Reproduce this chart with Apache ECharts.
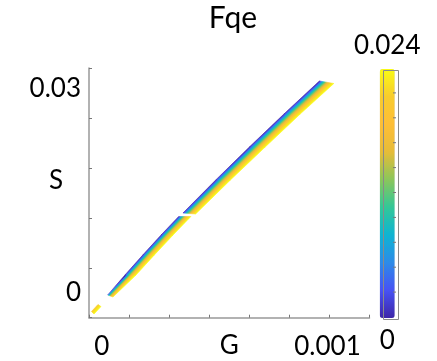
<!DOCTYPE html>
<html>
<head>
<meta charset="utf-8">
<script src="https://cdn.jsdelivr.net/npm/echarts@6/dist/echarts.min.js"></script>
<style>
  html, body { margin: 0; padding: 0; background: #fff; }
  #chart { width: 437px; height: 361px; }
</style>
</head>
<body>
<div id="chart"></div>
<script>
// Fqe over the (G, S) plane. Each piece of the band is given by its low-Fqe edge
// (blue side) and its high-Fqe edge (yellow side), as (G, S) points.
const upperBlueG   = [0.000360, 0.000505, 0.000654, 0.000807, 0.000964];
const upperBlueS   = [0.01176, 0.01662, 0.02147, 0.02632, 0.03118];
const upperYellowG = [0.000416, 0.000570, 0.000724, 0.000879, 0.001028];
const upperYellowS = [0.01162, 0.01662, 0.02147, 0.02632, 0.03081];

const lowerBlueG   = [0.0000266, 0.000103, 0.000182, 0.000263, 0.000341];
const lowerBlueS   = [-0.00029, 0.00265, 0.00559, 0.00853, 0.01125];
const lowerYellowG = [0.0000500, 0.000152, 0.000233, 0.000316, 0.000395];
const lowerYellowS = [-0.00059, 0.00265, 0.00559, 0.00853, 0.01125];

const tailBlueG    = [-0.0000452, -0.0000164];
const tailBlueS    = [-0.00272, -0.00169];
const tailYellowG  = [-0.0000341, -0.0000031];
const tailYellowS  = [-0.00309, -0.00199];

// Fqe across the main band: fraction of the way from blue edge to yellow edge -> Fqe
const bandProfilePos = [0, 0.1, 0.25, 0.5, 0.75, 1];
const bandProfileFqe = [0, 0.0036, 0.0096, 0.0173, 0.0216, 0.024];
// the short detached tail only holds high values
const tailProfilePos = [0, 1];
const tailProfileFqe = [0.021, 0.024];

// Axes and colour scale
const gRange = [-0.0000562, 0.001186];
const sRange = [-0.00363, 0.03309];
const gLabels = [0, 0.001];
const sLabels = [0, 0.03];
const fqeRange = [0, 0.024];
const fqeLabels = ['0.024', '0'];
const chartTitle = 'Fqe';

const parulaColors = ['#3e26a8', '#4852f4', '#2d8be8', '#0fb4d2', '#33c798',
                      '#8bc65b', '#e6bc38', '#febe37', '#f8cc2d', '#f9fb15'];
const parulaPos = [0, 0.127, 0.254, 0.381, 0.508, 0.635, 0.762, 0.825, 0.889, 1];

const FONT = 'Lato, "Open Sans", sans-serif';

function hexToRgb(h) {
  return [parseInt(h.slice(1, 3), 16), parseInt(h.slice(3, 5), 16), parseInt(h.slice(5, 7), 16)];
}
const parulaRgb = parulaColors.map(hexToRgb);

function parulaAt(t) {
  t = Math.max(0, Math.min(1, t));
  let i = 0;
  while (i < parulaPos.length - 2 && t > parulaPos[i + 1]) i++;
  const u = (t - parulaPos[i]) / (parulaPos[i + 1] - parulaPos[i]);
  const a = parulaRgb[i], b = parulaRgb[i + 1];
  const c = a.map((v, k) => Math.round(v + (b[k] - v) * u));
  return 'rgb(' + c.join(',') + ')';
}

// gradient stops for a cross-band Fqe profile
function profileStops(pos, fqe) {
  const span = fqeRange[1] - fqeRange[0];
  const stops = [];
  const sub = 6;
  for (let i = 0; i < pos.length - 1; i++) {
    for (let k = 0; k < sub; k++) {
      const u = k / sub;
      const f = fqe[i] + (fqe[i + 1] - fqe[i]) * u;
      stops.push({ offset: pos[i] + (pos[i + 1] - pos[i]) * u, color: parulaAt((f - fqeRange[0]) / span) });
    }
  }
  const last = fqe[fqe.length - 1];
  stops.push({ offset: 1, color: parulaAt((last - fqeRange[0]) / span) });
  return stops;
}
const bandStops = profileStops(bandProfilePos, bandProfileFqe);
const tailStops = profileStops(tailProfilePos, tailProfileFqe);
const stopSets = [bandStops, tailStops];

// One quad per pair of neighbouring edge points
function pieceSegments(bg, bs, yg, ys, profile) {
  const out = [];
  for (let i = 0; i < bg.length - 1; i++) {
    out.push([bg[i], bs[i], bg[i + 1], bs[i + 1], yg[i], ys[i], yg[i + 1], ys[i + 1], profile]);
  }
  return out;
}

const bandData = []
  .concat(pieceSegments(lowerBlueG, lowerBlueS, lowerYellowG, lowerYellowS, 0))
  .concat(pieceSegments(upperBlueG, upperBlueS, upperYellowG, upperYellowS, 0))
  .concat(pieceSegments(tailBlueG, tailBlueS, tailYellowG, tailYellowS, 1));

function renderBand(params, api) {
  const pt = k => api.coord([api.value(k), api.value(k + 1)]);
  const b0 = pt(0), b1 = pt(2), y0 = pt(4), y1 = pt(6);
  const stops = stopSets[api.value(8)];
  // direction along the band and its normal
  let dx = (b1[0] - b0[0]) + (y1[0] - y0[0]);
  let dy = (b1[1] - b0[1]) + (y1[1] - y0[1]);
  const len = Math.hypot(dx, dy) || 1;
  dx /= len; dy /= len;
  const nx = -dy, ny = dx;
  const px = (b0[0] + b1[0]) / 2, py = (b0[1] + b1[1]) / 2;
  const qx = (y0[0] + y1[0]) / 2, qy = (y0[1] + y1[1]) / 2;
  const d = (qx - px) * nx + (qy - py) * ny;
  const grad = {
    type: 'linear', global: true,
    x: px, y: py, x2: px + nx * d, y2: py + ny * d,
    colorStops: stops
  };
  return {
    type: 'polygon',
    shape: { points: [b0, b1, y1, y0] },
    style: { fill: grad, stroke: grad, lineWidth: 0.6 }
  };
}

const chart = echarts.init(document.getElementById('chart'), null, { renderer: 'canvas' });

const axisGray = '#999999';
const gTicks = [], sTicks = [];
for (let k = 0; k <= 7; k++) gTicks.push(gRange[0] + (gRange[1] - gRange[0]) * k / 7);
for (let k = 0; k <= 5; k++) sTicks.push(sRange[0] + (sRange[1] - sRange[0]) * k / 5);

// heading, colour bar frame and colour bar ticks
const barLeft = 381, barTop = 68, barW = 15, barH = 249;
const decorations = [{
  type: 'text', x: 233, y: 18, z: 100,
  style: {
    text: chartTitle, fill: '#000', font: '30px ' + FONT,
    align: 'center', verticalAlign: 'middle'
  }
}, {
  type: 'rect', left: barLeft, top: barTop, z: 100,
  shape: { width: barW, height: barH },
  style: { fill: null, stroke: '#8a8a8a', lineWidth: 1 }
}];
for (let k = 1; k < 10; k++) {
  const y = barTop + barH * k / 10;
  decorations.push({
    type: 'line', z: 100,
    shape: { x1: barLeft + barW - 3, y1: y, x2: barLeft + barW, y2: y },
    style: { stroke: '#777', lineWidth: 1 }
  });
}

chart.setOption({
  animation: false,
  grid: { left: 89, top: 68, right: 67.5, bottom: 43.3, containLabel: false, outerBoundsMode: 'none' },
  xAxis: {
    type: 'value', min: gRange[0], max: gRange[1],
    name: 'G', nameLocation: 'middle', nameGap: 15, nameMoveOverlap: false,
    nameTextStyle: { fontFamily: FONT, fontSize: 26, color: '#000', verticalAlign: 'top' },
    axisLine: { show: true, onZero: false, lineStyle: { color: axisGray, width: 1.5 } },
    axisTick: { show: true, inside: true, length: 3, customValues: gTicks, lineStyle: { color: '#777' } },
    axisLabel: {
      customValues: gLabels, margin: 16,
      fontFamily: FONT, fontSize: 26, color: '#000',
      formatter: v => (v === 0 ? '0' : String(v))
    },
    splitLine: { show: false }
  },
  yAxis: {
    type: 'value', min: sRange[0], max: sRange[1],
    name: 'S', nameLocation: 'middle', nameGap: 26, nameRotate: 0, nameMoveOverlap: false,
    nameTextStyle: {
      fontFamily: FONT, fontSize: 26, color: '#000',
      align: 'right', verticalAlign: 'bottom', lineHeight: 24
    },
    axisLine: { show: true, onZero: false, lineStyle: { color: axisGray, width: 1.5 } },
    axisTick: { show: true, inside: true, length: 3, customValues: sTicks, lineStyle: { color: '#777' } },
    axisLabel: {
      customValues: sLabels, margin: 8, padding: [6, 0, 0, 0],
      fontFamily: FONT, fontSize: 26, color: '#000',
      formatter: v => (v === 0 ? '0' : String(v))
    },
    splitLine: { show: false }
  },
  visualMap: {
    type: 'continuous', min: fqeRange[0], max: fqeRange[1],
    seriesIndex: [], calculable: false, hoverLink: false,
    orient: 'vertical', left: 339, top: 18,
    itemWidth: barW, itemHeight: barH,
    text: fqeLabels, textGap: 10,
    textStyle: { fontFamily: FONT, fontSize: 26, color: '#000' },
    inRange: { color: parulaColors }
  },
  graphic: decorations,
  series: [{
    type: 'custom',
    silent: true,
    renderItem: renderBand,
    encode: { x: [0, 2, 4, 6], y: [1, 3, 5, 7] },
    data: bandData
  }]
});
</script>
</body>
</html>
